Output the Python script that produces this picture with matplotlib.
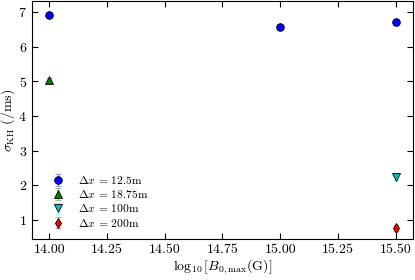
import numpy as np
import matplotlib
matplotlib.use('Agg')
import matplotlib.pyplot as plt

params = {
    'font.family': 'serif',
    'font.serif': ['cmr10'],
    'mathtext.fontset': 'cm',
    'axes.formatter.use_mathtext': True,
    'axes.unicode_minus': False,
    'xtick.direction': 'in',
    'ytick.direction': 'in',
    'xtick.top': True,
    'ytick.right': True,
    'font.size': 9,
}
matplotlib.rcParams.update(params)

# data
labels = [r'$\Delta x$ = 12.5m', r'$\Delta x$ = 18.75m', r'$\Delta x$ = 100m', r'$\Delta x$ = 200m']
x_125 = [14.0, 15.0, 15.5]
y_125 = [6.92, 6.57, 6.71]
e_125 = [0.08, 0.08, 0.08]
x_1875 = [14.0]
y_1875 = [5.03]
e_1875 = [0.07]
x_100 = [15.5]
y_100 = [2.23]
e_100 = [0.07]
x_200 = [15.5]
y_200 = [0.77]
e_200 = [0.09]

series = [
    (x_125, y_125, e_125, 'o', 'b', '#8080ff'),
    (x_1875, y_1875, e_1875, '^', 'g', '#80c080'),
    (x_100, y_100, e_100, 'v', 'c', '#80ffff'),
    (x_200, y_200, e_200, 'd', 'r', '#ff8080'),
]

fig = plt.figure(figsize=(4.15, 2.8), dpi=100)
ax = fig.add_axes([0.077, 0.146, 0.918, 0.85])

for (xs, ys, es, m, c, ec), lab in zip(series, labels):
    ax.errorbar(xs, ys, yerr=es, fmt=m, color=c, mfc=c, mec='k', mew=0.6,
                ms=5.5, ecolor=ec, elinewidth=1.0, capsize=2.5, label=lab)

ax.set_xlim(13.925, 15.575)
ax.set_ylim(0.45, 7.32)
ax.set_xticks([14.0, 14.25, 14.5, 14.75, 15.0, 15.25, 15.5])
ax.set_xticklabels(['14.00', '14.25', '14.50', '14.75', '15.00', '15.25', '15.50'])
ax.set_yticks([1, 2, 3, 4, 5, 6, 7])
ax.tick_params(length=4, width=0.8, labelsize=10)
ax.set_xlabel(r'$\log_{10}[B_{0,\max}(\mathrm{G})]$', fontsize=10, labelpad=1)
ax.set_ylabel(r'$\sigma_{\rm KH}\ (/\mathrm{ms})$', fontsize=10)
ax.yaxis.set_label_coords(-0.04, 0.5)

ax.legend(loc='lower left', frameon=False, fontsize=8.3, handletextpad=0.7,
          labelspacing=0.2, bbox_to_anchor=(0.012, 0.0), borderaxespad=0.5)

plt.savefig('out.png', dpi=100)
